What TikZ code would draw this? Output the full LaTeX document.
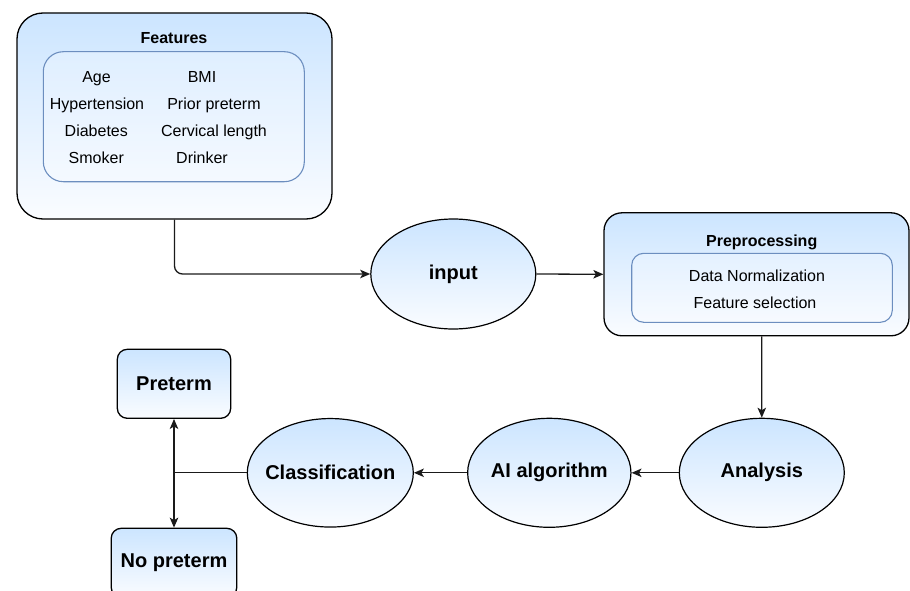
\documentclass[tikz,border=0pt]{standalone}
\usepackage{fontspec}
\setmainfont{Liberation Sans}
\usepackage{xcolor}
\usepackage{tikz}
\usetikzlibrary{arrows.meta,shapes.geometric}
\definecolor{topblue}{HTML}{CCE5FF}
\definecolor{botblue}{HTML}{FAFCFF}
\definecolor{edge}{HTML}{000000}
\definecolor{inedge}{HTML}{6C8EBF}
\definecolor{wire}{HTML}{1A1A1A}
\tikzset{
  outer/.style={draw=edge, line width=1.3pt, top color=topblue, bottom color=botblue, rounded corners=#1, inner sep=0pt},
  inner/.style={draw=inedge, line width=1.1pt, fill=white, fill opacity=0.25, rounded corners=#1, inner sep=0pt},
  oval/.style={ellipse, draw=edge, line width=1.2pt, top color=topblue, bottom color=botblue, inner sep=0pt},
  conn/.style={draw=wire, line width=1.3pt, -{Stealth[length=10pt,width=8.5pt,inset=2.5pt]}},
  lab/.style={font=\fontsize{16}{19}\selectfont, anchor=base, inner sep=0pt},
  labb/.style={font=\bfseries\fontsize{16}{19}\selectfont, anchor=base, inner sep=0pt},
  big/.style={font=\bfseries\fontsize{20}{24}\selectfont},
}
\begin{document}
\begin{tikzpicture}[x=1pt,y=1pt]
  \useasboundingbox (0,0) rectangle (910,-591);
  % features block
  \node[outer=26pt, minimum width=315pt, minimum height=206pt] (features) at (174.5,-116) {};
  \node[inner=20pt, minimum width=261pt, minimum height=130pt] (featin) at (173.8,-116.7) {};
  \node[labb] (feattitle) at (174,-44) {Features};
  \node[lab] (age) at (96.5,-82.7) {Age};
  \node[lab] (bmi) at (202,-82.7) {BMI};
  \node[lab] (hyp) at (97,-109.5) {Hypertension};
  \node[lab] (prior) at (214,-109.5) {Prior preterm};
  \node[lab] (diab) at (96.3,-137) {Diabetes};
  \node[lab] (cerv) at (214,-137) {Cervical length};
  \node[lab] (smok) at (96.3,-163.5) {Smoker};
  \node[lab] (drink) at (202,-163.5) {Drinker};
  % preprocessing block
  \node[outer=18pt, minimum width=305pt, minimum height=123pt] (prep) at (756.5,-274.3) {};
  \node[inner=12pt, minimum width=260.6pt, minimum height=69pt] (prepin) at (762,-287.8) {};
  \node[labb] (preptitle) at (761.7,-246) {Preprocessing};
  \node[lab] (norm) at (757,-281.7) {Data Normalization};
  \node[lab] (fsel) at (755,-308.3) {Feature selection};
  % ovals (text set as centre labels so the ellipse keeps its size)
  \node[oval, minimum width=165pt, minimum height=110pt, label={[big]center:input}] (input) at (453.3,-274) {};
  \node[oval, minimum width=165pt, minimum height=109pt, label={[big]center:Analysis}] (analysis) at (761.8,-472.8) {};
  \node[oval, minimum width=163.3pt, minimum height=109pt, label={[big]center:AI algorithm}] (algo) at (549.3,-472.8) {};
  \node[oval, minimum width=166pt, minimum height=108.5pt, label={[big]center:Classification}] (classif) at (330.3,-472.8) {};
  % outcomes
  \node[outer=10pt, big, minimum width=113.4pt, minimum height=69pt] (preterm) at (174,-383.8) {Preterm};
  \node[outer=10pt, big, minimum width=125.6pt, minimum height=69pt] (nopreterm) at (174,-562.8) {No preterm};
  % connectors
  \draw[conn, rounded corners=8pt] (features.south) |- (input.west);
  \draw[conn] (input.east) -- (prep.west);
  \draw[conn] (prep.south -| preptitle) -- (analysis.north);
  \draw[conn] (analysis.west) -- (algo.east);
  \draw[conn] (algo.west) -- (classif.east);
  \draw[conn] (classif.west) -| (preterm.south);
  \draw[conn] (classif.west) -| (nopreterm.north);
\end{tikzpicture}
\end{document}
